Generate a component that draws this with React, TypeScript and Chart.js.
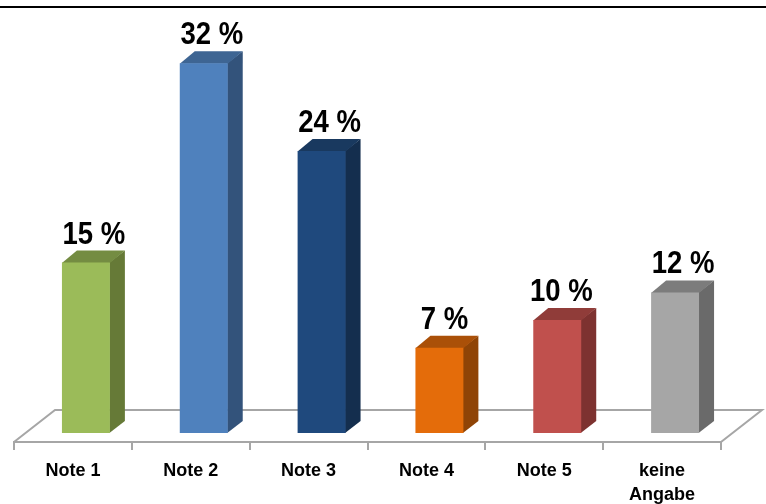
import React, { useEffect, useRef } from "react";
import { Chart, registerables } from "chart.js";

Chart.register(...registerables);

const categories = ["Note 1", "Note 2", "Note 3", "Note 4", "Note 5", ["keine", "Angabe"]];
const percentValues = [14.8, 32.1, 24.49, 7.4, 9.8, 12.2];
const frontColors = ["#9BBB59", "#4F81BD", "#1F497D", "#E46C0A", "#C0504D", "#A6A6A6"];
const topColors = ["#748C42", "#3E6593", "#19395F", "#AA5008", "#903C39", "#7C7C7C"];
const sideColors = ["#667A37", "#33537B", "#142E4E", "#8F4406", "#7D3230", "#6A6A6A"];
const labelNudgeX = [0, 0, 0, -3, -4, 0];

const FONT = '"Liberation Sans", Arial, sans-serif';
const shift = { x: 13, y: -9 };
const depth = { x: 15, y: -12 };
const floor = { x: 41, y: -32 };
const valueLabelStretch = 0.86;

const bars3d = {
  id: "bars3d",
  beforeDraw(chart: any) {
    const { ctx, width } = chart;
    ctx.save();
    ctx.fillStyle = "#ffffff";
    ctx.fillRect(0, 0, width, chart.height);
    ctx.fillStyle = "#000000";
    ctx.fillRect(0, 6, width, 2);
    ctx.restore();
  },
  beforeDatasetsDraw(chart: any) {
    const { ctx, chartArea: a } = chart;
    ctx.save();
    ctx.strokeStyle = "#A6A6A6";
    ctx.lineWidth = 2;
    ctx.beginPath();
    ctx.moveTo(a.left, a.bottom);
    ctx.lineTo(a.left + floor.x, a.bottom + floor.y);
    ctx.lineTo(a.right + floor.x, a.bottom + floor.y);
    ctx.lineTo(a.right, a.bottom);
    ctx.stroke();
    ctx.restore();
  },
  beforeDatasetDraw(chart: any) {
    const { ctx } = chart;
    ctx.save();
    ctx.translate(shift.x, shift.y);
    chart.getDatasetMeta(0).data.forEach((bar: any, i: number) => {
      const half = bar.width / 2;
      const l = bar.x - half;
      const r = bar.x + half;
      const t = bar.y;
      const b = bar.base;
      ctx.fillStyle = sideColors[i];
      ctx.beginPath();
      ctx.moveTo(r - 0.5, t);
      ctx.lineTo(r + depth.x, t + depth.y);
      ctx.lineTo(r + depth.x, b + depth.y);
      ctx.lineTo(r - 0.5, b);
      ctx.closePath();
      ctx.fill();
      ctx.fillStyle = topColors[i];
      ctx.beginPath();
      ctx.moveTo(l, t + 0.5);
      ctx.lineTo(l + depth.x, t + depth.y);
      ctx.lineTo(r + depth.x, t + depth.y);
      ctx.lineTo(r, t + 0.5);
      ctx.closePath();
      ctx.fill();
    });
  },
  afterDatasetDraw(chart: any) {
    chart.ctx.restore();
  },
  afterDatasetsDraw(chart: any) {
    const { ctx } = chart;
    ctx.fillStyle = "#000000";
    chart.getDatasetMeta(0).data.forEach((bar: any, i: number) => {
      const label = `${Math.round(percentValues[i])} %`;
      ctx.save();
      ctx.font = `bold 32px ${FONT}`;
      ctx.textAlign = "center";
      ctx.textBaseline = "alphabetic";
      ctx.translate(bar.x + shift.x + 8 + labelNudgeX[i], bar.y + shift.y + depth.y - 7);
      ctx.scale(valueLabelStretch, 1);
      ctx.fillText(label, 0, 0);
      ctx.restore();
    });
  },
};

export default function App() {
  const ref = useRef<HTMLCanvasElement>(null);
  useEffect(() => {
    const chart = new Chart(ref.current!, {
      type: "bar",
      data: {
        labels: categories as any,
        datasets: [
          {
            data: percentValues,
            backgroundColor: frontColors,
            barPercentage: 0.407,
            categoryPercentage: 1,
          },
        ],
      },
      options: {
        responsive: false,
        animation: false,
        layout: { padding: { left: 14, right: 45, top: 10, bottom: 0 } },
        plugins: { legend: { display: false }, tooltip: { enabled: false }, title: { display: false } },
        scales: {
          x: {
            grid: {
              drawOnChartArea: false,
              drawTicks: true,
              tickLength: 8,
              color: "#A6A6A6",
              lineWidth: 2,
            },
            border: { display: true, color: "#A6A6A6", width: 2 },
            ticks: {
              color: "#000000",
              maxRotation: 0,
              minRotation: 0,
              autoSkip: false,
              padding: 9,
              font: { family: FONT, size: 18, weight: "bold", lineHeight: 1.35 },
            },
            afterFit(scale: any) {
              scale.height = 62;
            },
          },
          y: { display: false, min: 0, max: 37.5 },
        },
      },
      plugins: [bars3d],
    } as any);
    return () => chart.destroy();
  }, []);
  return (
    <div style={{ position: "fixed", left: 0, top: 0, width: 766, height: 504 }}>
      <canvas ref={ref} width={766} height={504} style={{ display: "block" }} />
    </div>
  );
}
